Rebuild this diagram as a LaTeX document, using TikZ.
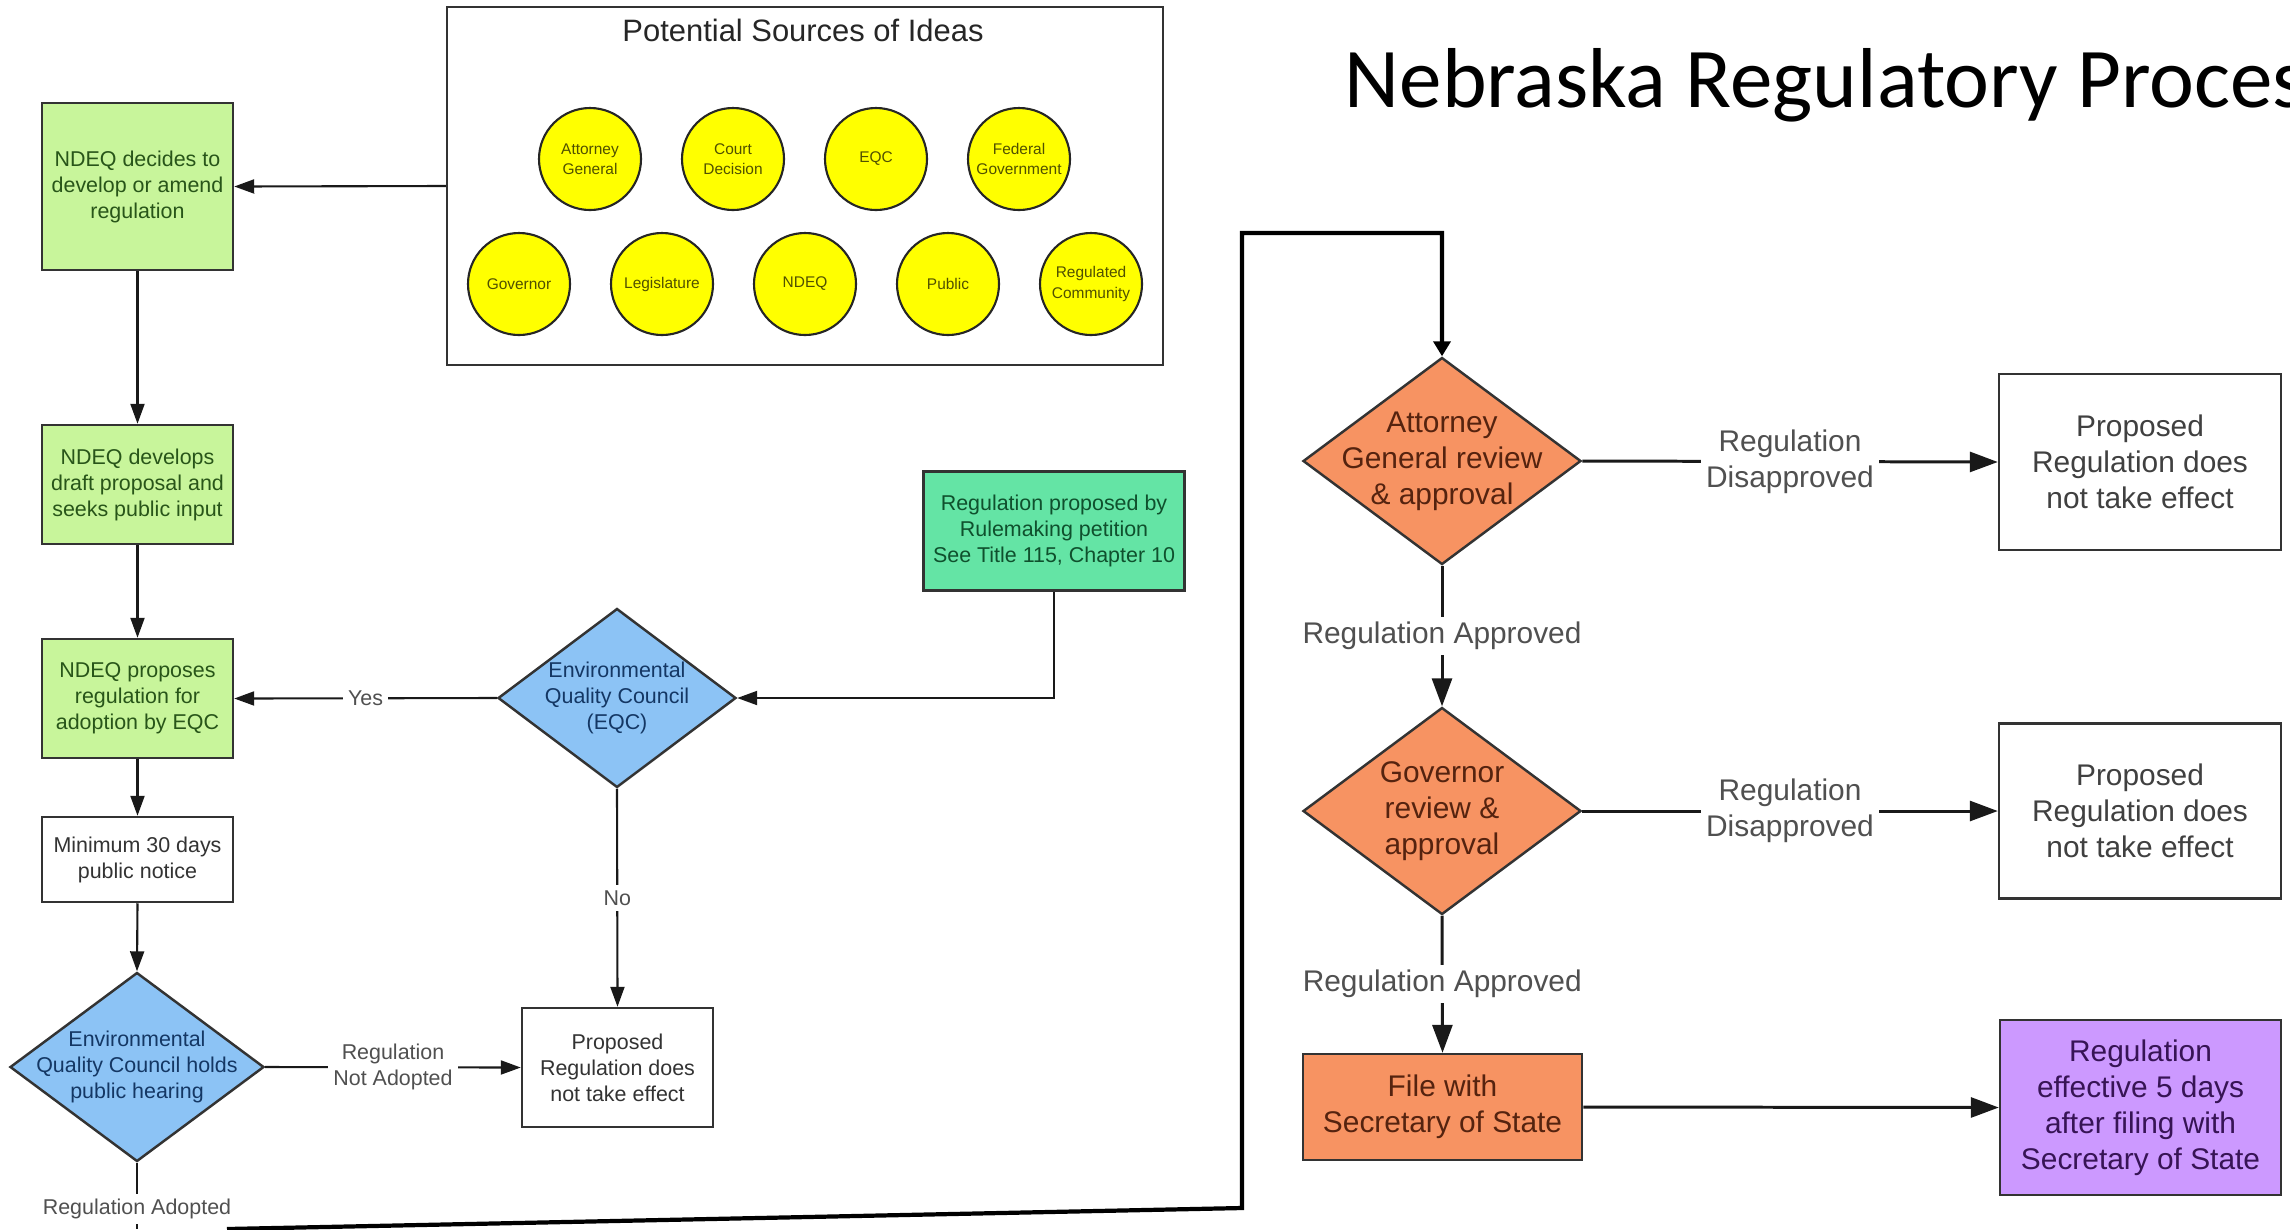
\documentclass[tikz,border=0pt]{standalone}
\usepackage{fontspec}
\setmainfont{Liberation Sans}
\newfontfamily\calibrifont{Carlito}
\usetikzlibrary{shapes.geometric,arrows.meta}

\definecolor{boxgreen}{RGB}{200,245,155}
\definecolor{greentext}{RGB}{40,85,25}
\definecolor{boxteal}{RGB}{100,228,165}
\definecolor{tealtext}{RGB}{15,80,45}
\definecolor{diablue}{RGB}{140,195,245}
\definecolor{bluetext}{RGB}{20,55,100}
\definecolor{boxorange}{RGB}{247,147,98}
\definecolor{orangetext}{RGB}{85,35,15}
\definecolor{boxpurple}{RGB}{204,153,255}
\definecolor{purpletext}{RGB}{55,20,85}
\definecolor{ideayellow}{RGB}{255,255,0}
\definecolor{ideatext}{RGB}{80,80,0}
\definecolor{labgray}{RGB}{80,80,80}

\tikzset{
  box/.style={draw=black!80, line width=0.7pt, align=center, inner sep=0pt},
  smalltext/.style={font=\fontsize{6.1}{7.4}\selectfont},
  bigtext/.style={font=\fontsize{8.5}{10.2}\selectfont},
  dia/.style={diamond, draw=black!80, line width=0.7pt, inner sep=0pt},
  idea/.style={circle, draw=black!85, line width=0.6pt, fill=ideayellow, minimum size=1.02cm, inner sep=0pt, align=center, text=ideatext, font=\fontsize{4.4}{5.7}\selectfont},
  arr/.style={line width=0.6pt, draw=black!90, -{Triangle[length=0.2cm,width=0.14cm]}},
  bigarr/.style={line width=0.85pt, draw=black!90, -{Triangle[length=0.28cm,width=0.2cm]}},
  lab/.style={fill=white, align=center, inner sep=1.5pt, text=labgray}
}

\begin{document}
\begin{tikzpicture}
\fill[white] (0,0) rectangle (22.9,-12.29);
\useasboundingbox (0,0) rectangle (22.9,-12.29);

\node[anchor=base west, inner sep=0pt, font=\calibrifont\fontsize{24.2}{28}\selectfont] (title) at (13.44,-1.07) {Nebraska Regulatory Process};

% sources of ideas
\node[draw=black!80, line width=0.7pt, minimum width=7.16cm, minimum height=3.58cm, inner sep=0pt] (sources) at (8.05,-1.86) {};
\node[font=\fontsize{8.8}{10}\selectfont, text=black!85] (sourcestitle) at (8.03,-0.30) {Potential Sources of Ideas};
\foreach \x/\txt [count=\i] in {5.90/{Attorney\\General},7.33/{Court\\Decision},8.76/EQC,10.19/{Federal\\Government}}
  \node[idea] (srcA\i) at (\x,-1.59) {\txt};
\foreach \x/\txt [count=\i] in {5.19/Governor,6.62/Legislature,8.05/NDEQ,9.48/Public,10.91/{Regulated\\Community}}
  \node[idea] (srcB\i) at (\x,-2.84) {\txt};

% left column
\node[box, smalltext, fill=boxgreen, text=greentext, minimum width=1.91cm, minimum height=1.67cm] (decide) at (1.375,-1.865) {NDEQ decides to\\develop or amend\\regulation};
\node[box, smalltext, fill=boxgreen, text=greentext, minimum width=1.91cm, minimum height=1.19cm] (develop) at (1.375,-4.845) {NDEQ develops\\draft proposal and\\seeks public input};
\node[box, smalltext, fill=boxgreen, text=greentext, minimum width=1.91cm, minimum height=1.19cm] (propose) at (1.375,-6.985) {NDEQ proposes\\regulation for\\adoption by EQC};
\node[box, smalltext, fill=white, text=black!80, minimum width=1.91cm, minimum height=0.85cm] (minimum) at (1.375,-8.595) {Minimum 30 days\\public notice};
\node[dia, fill=diablue, minimum width=2.54cm, minimum height=1.89cm, label={[smalltext, text=bluetext, align=center]center:Environmental\\Quality Council holds\\public hearing}] (hear) at (1.37,-10.67) {};
\coordinate (adoptfoot) at (1.37,-12.29);

\node[box, smalltext, fill=boxteal, text=tealtext, minimum width=2.61cm, minimum height=1.19cm] (petition) at (10.54,-5.31) {Regulation proposed by\\Rulemaking petition\\See Title 115, Chapter 10};
\node[dia, fill=diablue, minimum width=2.38cm, minimum height=1.79cm, label={[smalltext, text=bluetext, align=center]center:Environmental\\Quality Council\\(EQC)}] (eqc) at (6.17,-6.98) {};
\node[box, smalltext, fill=white, text=black!80, minimum width=1.91cm, minimum height=1.19cm] (notake1) at (6.175,-10.675) {Proposed\\Regulation does\\not take effect};

% right column
\node[dia, fill=boxorange, minimum width=2.78cm, minimum height=2.07cm, label={[bigtext, text=orangetext, align=center]center:Attorney\\General review\\\& approval}] (ag) at (14.42,-4.61) {};
\node[dia, fill=boxorange, minimum width=2.78cm, minimum height=2.07cm, label={[bigtext, text=orangetext, align=center]center:Governor\\review \&\\approval}] (gov) at (14.42,-8.11) {};
\node[box, bigtext, fill=boxorange, text=orangetext, minimum width=2.79cm, minimum height=1.06cm] (file) at (14.425,-11.07) {File with\\Secretary of State};
\node[box, bigtext, fill=white, text=black!75, minimum width=2.82cm, minimum height=1.76cm] (notake2) at (21.40,-4.62) {Proposed\\Regulation does\\not take effect};
\node[box, bigtext, fill=white, text=black!75, minimum width=2.82cm, minimum height=1.75cm] (notake3) at (21.40,-8.11) {Proposed\\Regulation does\\not take effect};
\node[box, bigtext, fill=boxpurple, text=purpletext, minimum width=2.81cm, minimum height=1.75cm] (effect) at (21.405,-11.075) {Regulation\\effective 5 days\\after filing with\\Secretary of State};

% connectors
\draw[arr] (sources.west) -- (decide.east);
\draw[arr] (decide.south) -- (develop.north);
\draw[arr] (develop.south) -- (propose.north);
\draw[arr] (propose.south) -- (minimum.north);
\draw[arr] (minimum.south) -- (hear.north);
\draw[arr] (petition.south) |- (eqc.east);
\draw[arr] (eqc.west) -- node[lab, smalltext] {Yes} (propose.east);
\draw[arr] (eqc.south) -- node[lab, smalltext] {No} (notake1.north);
\draw[arr] (hear.east) -- node[lab, smalltext] {Regulation\\Not Adopted} (notake1.west);
\draw[line width=0.6pt, draw=black!90] (hear.south) -- node[lab, smalltext, pos=0.7] {Regulation Adopted} (adoptfoot);

\coordinate (loopa) at (2.27,-12.29);
\coordinate (loopb) at (12.42,-12.08);
\coordinate (loopc) at (12.42,-2.33);
\draw[line width=1.2pt, -{Triangle[length=0.15cm,width=0.17cm]}] (loopa) -- (loopb) -- (loopc) -| (ag.north);

\draw[bigarr] (ag.east) -- node[lab, bigtext] {Regulation\\Disapproved} (notake2.west);
\draw[bigarr] (ag.south) -- node[lab, bigtext] {Regulation Approved} (gov.north);
\draw[bigarr] (gov.east) -- node[lab, bigtext] {Regulation\\Disapproved} (notake3.west);
\draw[bigarr] (gov.south) -- node[lab, bigtext] {Regulation Approved} (file.north);
\draw[bigarr] (file.east) -- (effect.west);
\end{tikzpicture}
\end{document}
